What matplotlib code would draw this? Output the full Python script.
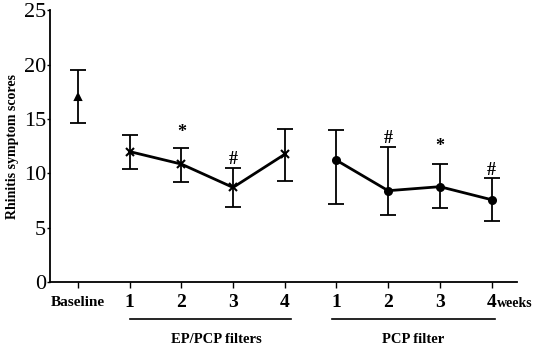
import numpy as np
import matplotlib.pyplot as plt
import matplotlib.transforms as mtransforms

plt.rcParams['font.family'] = ['Liberation Serif', 'DejaVu Serif']

tick_labels = ['Baseline', '1', '2', '3', '4', '1', '2', '3', '4']

baseline_mean = [17.0]
baseline_hi = [19.5]
baseline_lo = [14.65]

ep_mean = [12.0, 10.85, 8.7, 11.75]
ep_hi = [13.5, 12.35, 10.5, 14.05]
ep_lo = [10.4, 9.2, 6.9, 9.3]
ep_marks = ['', '*', '#', '']
ep_mark_y = [0, 13.8, 11.3, 0]

pcp_mean = [11.2, 8.4, 8.77, 7.57]
pcp_hi = [13.95, 12.45, 10.9, 9.55]
pcp_lo = [7.2, 6.2, 6.8, 5.6]
pcp_marks = ['', '#', '*', '#']
pcp_mark_y = [0, 13.2, 12.45, 10.3]


def draw_group(ax, x, mean, hi, lo, marker, ms):
    mean = np.array(mean)
    err = [mean - np.array(lo), np.array(hi) - mean]
    ax.errorbar(x, mean, yerr=err, fmt='none', ecolor='black',
                elinewidth=1.3, capsize=6, capthick=1.3)
    ax.plot(x, mean, color='black', lw=2.0, marker=marker, ms=ms,
            mew=1.5, mfc='black', mec='black')


def main():
    fig = plt.figure(figsize=(5.34, 3.51), dpi=100)
    ax = fig.add_axes([0.0936, 0.1966, 0.8744, 0.7741])

    draw_group(ax, [0], baseline_mean, baseline_hi, baseline_lo, '^', 5)
    x_ep = np.arange(1, 5)
    draw_group(ax, x_ep, ep_mean, ep_hi, ep_lo, 'x', 6)
    x_pcp = np.arange(5, 9)
    draw_group(ax, x_pcp, pcp_mean, pcp_hi, pcp_lo, 'o', 5)

    for x, m, y in zip(x_ep, ep_marks, ep_mark_y):
        if m:
            ax.text(x, y, m, ha='center', va='center', fontsize=13, fontweight='bold')
    for x, m, y in zip(x_pcp, pcp_marks, pcp_mark_y):
        if m:
            ax.text(x, y, m, ha='center', va='center', fontsize=13, fontweight='bold')

    ax.set_xlim(-0.54, 8.49)
    ax.set_ylim(0, 25)
    ax.set_yticks([0, 5, 10, 15, 20, 25])
    ax.set_xticks(np.arange(9))
    ax.set_xticklabels(tick_labels)
    for lab in ax.get_xticklabels():
        lab.set_fontweight('bold')
        lab.set_fontsize(14)
        lab.set_verticalalignment('center')
    ax.get_xticklabels()[0].set_fontsize(11)
    for lab in ax.get_yticklabels():
        lab.set_fontsize(16)
    ax.tick_params(axis='x', direction='out', length=4.3, width=1.0, pad=10.5)
    ax.tick_params(axis='y', direction='out', length=2.2, width=1.0, pad=0.5)

    ax.spines['top'].set_visible(False)
    ax.spines['right'].set_visible(False)
    ax.spines['left'].set_linewidth(1.3)
    ax.spines['bottom'].set_linewidth(1.3)

    ax.set_ylabel('Rhinitis symptom scores', fontsize=10, fontweight='bold')
    ax.yaxis.set_label_coords(-0.066, 0.5)

    trans = mtransforms.blended_transform_factory(ax.transData, ax.transAxes)
    ax.text(8.1, -0.079, 'weeks', transform=trans, ha='left', va='center',
            fontsize=10, fontweight='bold')
    ax.plot([1.0, 4.12], [-0.136, -0.136], transform=trans, color='black',
            lw=1.2, clip_on=False)
    ax.plot([4.92, 8.07], [-0.136, -0.136], transform=trans, color='black',
            lw=1.2, clip_on=False)
    ax.text(2.67, -0.21, 'EP/PCP filters', transform=trans, ha='center',
            va='center', fontsize=10.5, fontweight='bold')
    ax.text(6.48, -0.21, 'PCP filter', transform=trans, ha='center',
            va='center', fontsize=10.5, fontweight='bold')

    fig.savefig('out.png', dpi=100)


if __name__ == "__main__":
    main()
